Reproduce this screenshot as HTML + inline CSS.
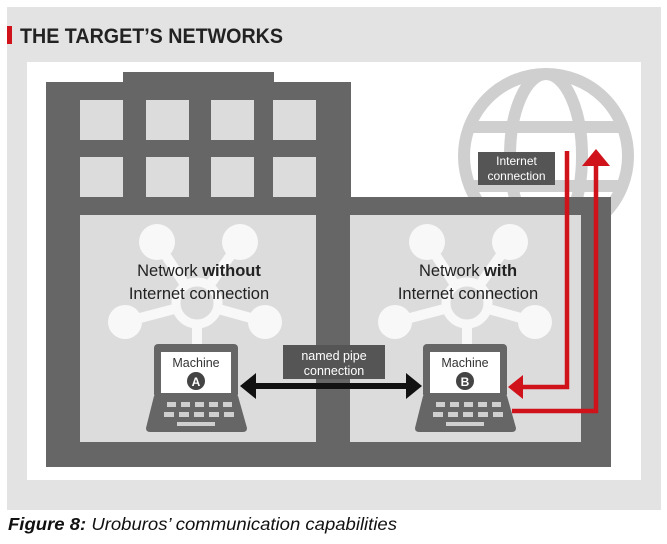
<!DOCTYPE html>
<html><head><meta charset="utf-8"><style>
html,body{margin:0;padding:0;background:#fff;}
svg{display:block;}
text{font-family:"Liberation Sans",sans-serif;}
</style></head><body>
<svg width="667" height="544" viewBox="0 0 667 544" xmlns="http://www.w3.org/2000/svg">
<rect x="0" y="0" width="667" height="544" fill="#fff"/>
<rect x="7" y="7" width="654" height="503" fill="#e3e3e3"/>
<rect x="7" y="26" width="5" height="18" fill="#d0121a"/>
<text x="20" y="43" font-size="21" font-weight="bold" fill="#222" textLength="263" lengthAdjust="spacingAndGlyphs">THE TARGET’S NETWORKS</text>
<rect x="27" y="62" width="614" height="418" fill="#fff"/>
<g fill="none" stroke="#cfcfcf" stroke-width="12">
<circle cx="546" cy="156" r="82"/>
<ellipse cx="546" cy="156" rx="36" ry="82"/>
<line x1="466" y1="127" x2="626" y2="127"/>
<line x1="466" y1="186" x2="626" y2="186"/>
</g>
<rect x="123" y="72" width="151" height="12" fill="#666"/>
<rect x="46" y="82" width="305" height="385" fill="#666"/>
<rect x="350" y="197" width="261" height="270" fill="#666"/>
<g fill="#dcdcdc">
<rect x="80" y="100" width="43" height="40"/><rect x="146" y="100" width="43" height="40"/><rect x="211" y="100" width="43" height="40"/><rect x="273" y="100" width="43" height="40"/>
<rect x="80" y="157" width="43" height="40"/><rect x="146" y="157" width="43" height="40"/><rect x="211" y="157" width="43" height="40"/><rect x="273" y="157" width="43" height="40"/>
</g>
<rect x="80" y="215" width="236" height="227" fill="#dcdcdc"/>
<rect x="350" y="215" width="231" height="227" fill="#dcdcdc"/>
<g id="hubA">
<g stroke="#f8f8f8" stroke-width="10">
<line x1="197" y1="303" x2="157" y2="242"/>
<line x1="197" y1="303" x2="240" y2="242"/>
<line x1="197" y1="303" x2="125" y2="322"/>
<line x1="197" y1="303" x2="265" y2="322"/>
<line x1="197" y1="303" x2="197" y2="346"/>
</g>
<g fill="#f8f8f8">
<circle cx="157" cy="242" r="18"/>
<circle cx="240" cy="242" r="18"/>
<circle cx="125" cy="322" r="17"/>
<circle cx="265" cy="322" r="17"/>
</g>
<circle cx="197" cy="303" r="21" fill="#dcdcdc" stroke="#f8f8f8" stroke-width="9"/>
</g>
<use href="#hubA" transform="translate(270,0)"/>
<text x="199" y="276" font-size="16.5" fill="#222" text-anchor="middle">Network <tspan font-weight="bold">without</tspan></text>
<text x="199" y="299" font-size="16.5" fill="#222" text-anchor="middle">Internet connection</text>
<text x="468" y="276" font-size="16.5" fill="#222" text-anchor="middle">Network <tspan font-weight="bold">with</tspan></text>
<text x="468" y="299" font-size="16.5" fill="#222" text-anchor="middle">Internet connection</text>
<g id="lapA">
<rect x="154" y="344" width="84" height="54" rx="4" fill="#666"/>
<rect x="161" y="352" width="70" height="41" fill="#fff"/>
<path d="M154 396 L238 396 L247 428 Q247 432 243 432 L150 432 Q146 432 146 428 Z" fill="#666"/>
<g fill="#cfcfcf">
<rect x="167" y="402" width="9" height="5"/><rect x="181" y="402" width="9" height="5"/><rect x="195" y="402" width="9" height="5"/><rect x="209" y="402" width="9" height="5"/><rect x="223" y="402" width="9" height="5"/>
<rect x="164" y="412" width="10" height="5"/><rect x="179" y="412" width="10" height="5"/><rect x="194" y="412" width="10" height="5"/><rect x="209" y="412" width="10" height="5"/><rect x="224" y="412" width="10" height="5"/>
<rect x="177" y="422" width="38" height="4"/>
</g>
</g>
<use href="#lapA" transform="translate(269,0)"/>
<text x="196" y="367" font-size="12.5" fill="#333" text-anchor="middle">Machine</text>
<circle cx="196" cy="381" r="9" fill="#444"/>
<text x="196" y="386" font-size="12" font-weight="bold" fill="#fff" text-anchor="middle">A</text>
<text x="465" y="367" font-size="12.5" fill="#333" text-anchor="middle">Machine</text>
<circle cx="465" cy="381" r="9" fill="#444"/>
<text x="465" y="386" font-size="12" font-weight="bold" fill="#fff" text-anchor="middle">B</text>
<rect x="283" y="345" width="102" height="34" fill="#555"/>
<text x="334" y="360" font-size="12.5" fill="#fff" text-anchor="middle">named pipe</text>
<text x="334" y="375" font-size="12.5" fill="#fff" text-anchor="middle">connection</text>
<rect x="254" y="383" width="154" height="6" fill="#111"/>
<polygon points="240,386 256,373 256,399" fill="#111"/>
<polygon points="422,386 406,373 406,399" fill="#111"/>
<rect x="478" y="152" width="77" height="33" fill="#555"/>
<text x="516.5" y="165" font-size="12" fill="#fff" text-anchor="middle">Internet</text>
<text x="516.5" y="180" font-size="12" fill="#fff" text-anchor="middle">connection</text>
<g fill="none" stroke="#d0121a" stroke-width="4.5">
<polyline points="567,151 567,387 520,387"/>
<polyline points="512,411 596,411 596,163"/>
</g>
<polygon points="508,387 523,375 523,399" fill="#d0121a"/>
<polygon points="596,149 582,166 610,166" fill="#d0121a"/>
<text x="8" y="530" font-size="17.5" font-style="italic" fill="#111" textLength="389" lengthAdjust="spacingAndGlyphs"><tspan font-weight="bold">Figure 8:</tspan>  Uroburos’ communication capabilities</text>
</svg>
</body></html>
